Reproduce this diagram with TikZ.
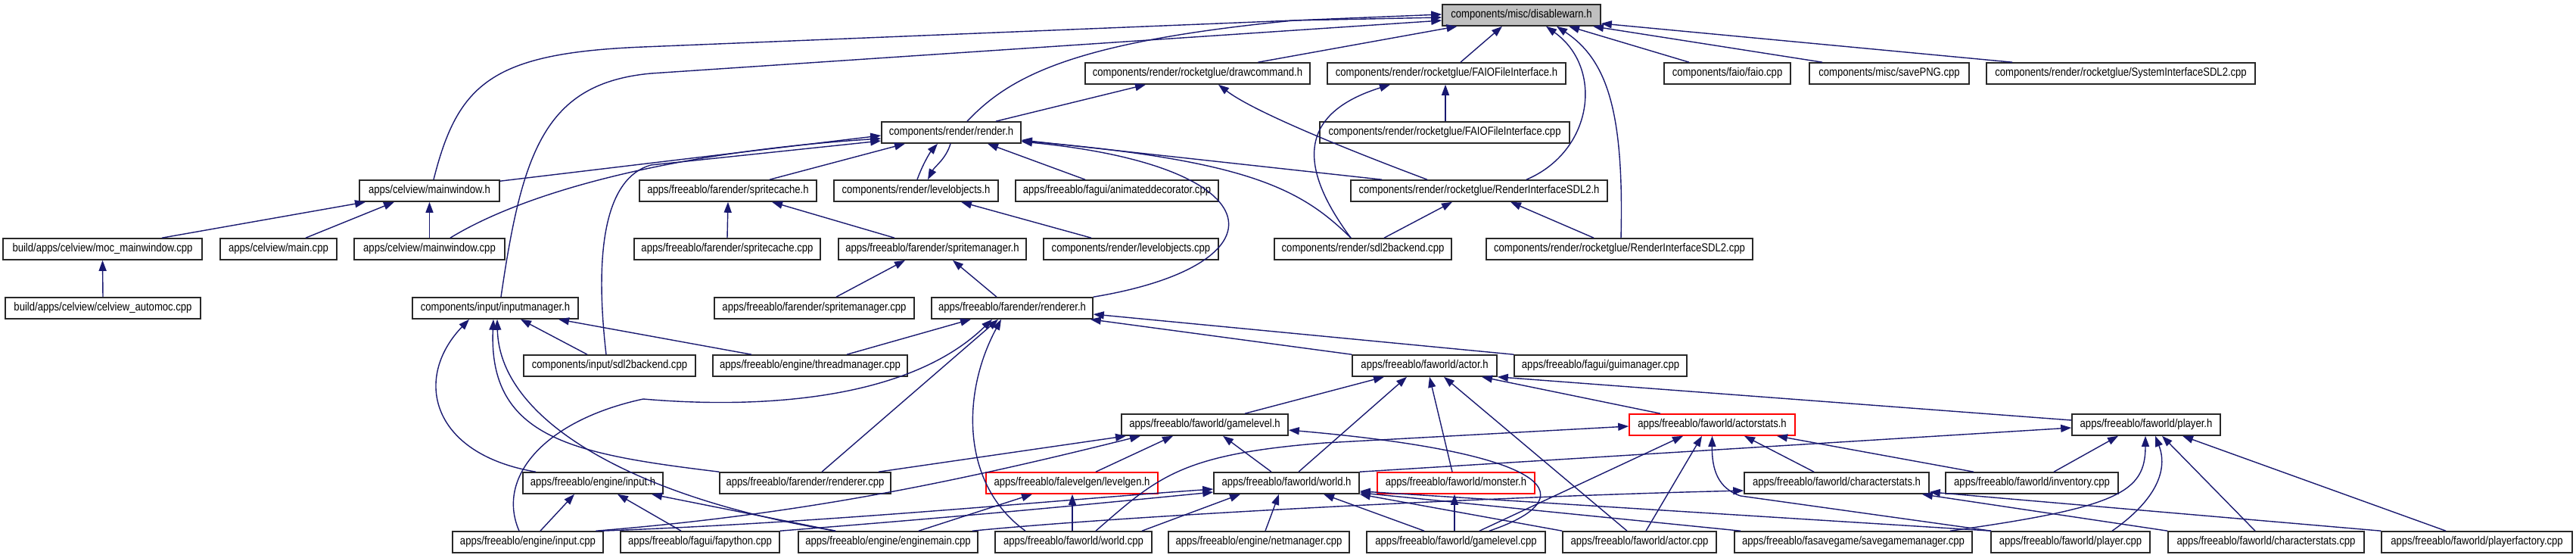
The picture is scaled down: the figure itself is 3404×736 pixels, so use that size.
\documentclass[tikz,border=0pt]{standalone}
\usepackage{fontspec}
\setmainfont{Liberation Sans}[FakeStretch=0.85]
\usetikzlibrary{arrows.meta}
\definecolor{edgec}{RGB}{25,25,112}
\definecolor{boxc}{RGB}{40,40,40}
\definecolor{grayfill}{RGB}{191,191,191}
\tikzset{
  box/.style={draw=boxc, line width=1.6pt, fill=white, minimum height=28pt, inner sep=0pt,
    font=\fontsize{15.4}{17}\selectfont},
  redbox/.style={box, draw=red},
  e/.style={draw=edgec, line width=1.4pt, -{Triangle[length=14pt,width=10pt]}}
}
\begin{document}
\begin{tikzpicture}[x=1pt,y=-1pt]
\useasboundingbox (0,0) rectangle (3404,736);
% row 1
\node[box, fill=grayfill, minimum width=209pt] (dw) at (2010.5,20) {components/misc/disablewarn.h};
% row 2
\node[box, minimum width=297pt] (dc) at (1582.5,97) {components/render/rocketglue/drawcommand.h};
\node[box, minimum width=315pt] (faioh) at (1911.5,97) {components/render/rocketglue/FAIOFileInterface.h};
\node[box, minimum width=167pt] (faio) at (2282.5,97) {components/faio/faio.cpp};
\node[box, minimum width=211pt] (png) at (2496.5,97) {components/misc/savePNG.cpp};
\node[box, minimum width=355pt] (sysif) at (2802.5,97) {components/render/rocketglue/SystemInterfaceSDL2.cpp};
% row 3
\node[box, minimum width=184pt] (render) at (1257,175) {components/render/render.h};
\node[box, minimum width=330pt] (faiocpp) at (1909,175) {components/render/rocketglue/FAIOFileInterface.cpp};
% row 4
\node[box, minimum width=185pt] (mwh) at (567.5,252) {apps/celview/mainwindow.h};
\node[box, minimum width=234pt] (sch) at (962,252) {apps/freeablo/farender/spritecache.h};
\node[box, minimum width=217pt] (loh) at (1210.5,252) {components/render/levelobjects.h};
\node[box, minimum width=268pt] (anim) at (1476,252) {apps/freeablo/fagui/animateddecorator.cpp};
\node[box, minimum width=339pt] (rih) at (1954.5,252) {components/render/rocketglue/RenderInterfaceSDL2.h};
% row 5
\node[box, minimum width=263pt] (moc) at (135.5,329) {build/apps/celview/moc\_mainwindow.cpp};
\node[box, minimum width=154pt] (main) at (368,329) {apps/celview/main.cpp};
\node[box, minimum width=199pt] (mwcpp) at (567.5,329) {apps/celview/mainwindow.cpp};
\node[box, minimum width=246pt] (sccpp) at (961,329) {apps/freeablo/farender/spritecache.cpp};
\node[box, minimum width=248pt] (smh) at (1232,329) {apps/freeablo/farender/spritemanager.h};
\node[box, minimum width=231pt] (locpp) at (1494.5,329) {components/render/levelobjects.cpp};
\node[box, minimum width=234pt] (sdlr) at (1801,329) {components/render/sdl2backend.cpp};
\node[box, minimum width=352pt] (ricpp) at (2140,329) {components/render/rocketglue/RenderInterfaceSDL2.cpp};
% row 6
\node[box, minimum width=258pt] (automoc) at (136,407) {build/apps/celview/celview\_automoc.cpp};
\node[box, minimum width=219pt] (imh) at (654.5,407) {components/input/inputmanager.h};
\node[box, minimum width=264pt] (smcpp) at (1076,407) {apps/freeablo/farender/spritemanager.cpp};
\node[box, minimum width=213pt] (rdh) at (1337.5,407) {apps/freeablo/farender/renderer.h};
% row 7
\node[box, minimum width=227pt] (sdli) at (805.5,483) {components/input/sdl2backend.cpp};
\node[box, minimum width=257pt] (tm) at (1070.5,483) {apps/freeablo/engine/threadmanager.cpp};
\node[box, minimum width=191pt] (acth) at (1882.5,483) {apps/freeablo/faworld/actor.h};
\node[box, minimum width=228pt] (gui) at (2115,483) {apps/freeablo/fagui/guimanager.cpp};
% row 8
\node[box, minimum width=220pt] (glh) at (1592,561) {apps/freeablo/faworld/gamelevel.h};
\node[redbox, minimum width=219pt] (ash) at (2262.5,561) {apps/freeablo/faworld/actorstats.h};
\node[box, minimum width=196pt] (plh) at (2836,561) {apps/freeablo/faworld/player.h};
% row 9
\node[box, minimum width=185pt] (inh) at (783.5,638) {apps/freeablo/engine/input.h};
\node[box, minimum width=226pt] (rdcpp) at (1064,638) {apps/freeablo/farender/renderer.cpp};
\node[redbox, minimum width=227pt] (lgh) at (1416.5,638) {apps/freeablo/falevelgen/levelgen.h};
\node[box, minimum width=192pt] (wh) at (1700,638) {apps/freeablo/faworld/world.h};
\node[redbox, minimum width=208pt] (mh) at (1924,638) {apps/freeablo/faworld/monster.h};
\node[box, minimum width=244pt] (csh) at (2427,638) {apps/freeablo/faworld/characterstats.h};
\node[box, minimum width=228pt] (inv) at (2685,638) {apps/freeablo/faworld/inventory.cpp};
% row 10
\node[box, minimum width=199pt] (incpp) at (697.5,716) {apps/freeablo/engine/input.cpp};
\node[box, minimum width=210pt] (fpy) at (925,716) {apps/freeablo/fagui/fapython.cpp};
\node[box, minimum width=237pt] (em) at (1173.5,716) {apps/freeablo/engine/enginemain.cpp};
\node[box, minimum width=207pt] (wcpp) at (1418.5,716) {apps/freeablo/faworld/world.cpp};
\node[box, minimum width=239pt] (net) at (1663.5,716) {apps/freeablo/engine/netmanager.cpp};
\node[box, minimum width=236pt] (glcpp) at (1924,716) {apps/freeablo/faworld/gamelevel.cpp};
\node[box, minimum width=203pt] (actcpp) at (2166.5,716) {apps/freeablo/faworld/actor.cpp};
\node[box, minimum width=314pt] (sg) at (2449,716) {apps/freeablo/fasavegame/savegamemanager.cpp};
\node[box, minimum width=210pt] (plcpp) at (2736,716) {apps/freeablo/faworld/player.cpp};
\node[box, minimum width=259pt] (cscpp) at (2994.5,716) {apps/freeablo/faworld/characterstats.cpp};
\node[box, minimum width=252pt] (pf) at (3273,716) {apps/freeablo/faworld/playerfactory.cpp};

% edges into disablewarn.h
\draw[e] ([xshift=5.5pt]mwh.north) .. controls (605,110) and (650,70) .. (850,62) -- ([yshift=1pt]dw.west);
\draw[e] ([xshift=7.5pt]imh.north) .. controls (690,200) and (720,110) .. (860,97) -- ([yshift=-7pt]dw.west);
\draw[e] ([xshift=21pt]render.north) .. controls (1335,100) and (1420,55) .. (1710,27) -- ([yshift=-3pt]dw.west);
\draw[e] ([xshift=80pt]dc.north) -- ([xshift=-85pt]dw.south);
\draw[e] ([xshift=18.5pt]faioh.north) -- ([xshift=-25.5pt]dw.south);
\draw[e] ([xshift=62.5pt]rih.north) .. controls (2105,200) and (2120,90) .. ([xshift=32.5pt]dw.south);
\draw[e] ([xshift=2pt]ricpp.north) .. controls (2146,150) and (2125,80) .. ([xshift=46.5pt]dw.south);
\draw[e] ([xshift=-50.5pt]faio.north) -- ([xshift=62.5pt]dw.south);
\draw[e] ([xshift=-88.5pt]png.north) -- ([xshift=94.5pt]dw.south);
\draw[e] ([xshift=-143.5pt]sysif.north) -- ([yshift=-11pt]dw.east);
% drawcommand.h
\draw[e] ([xshift=59pt]render.north) -- ([xshift=-68.5pt]dc.south);
\draw[e] ([xshift=-68.5pt]rih.north) .. controls (1800,205) and (1660,150) .. ([xshift=27.5pt]dc.south);
% FAIOFileInterface.h
\draw[e] ([xshift=1pt]faiocpp.north) -- ([xshift=-1.5pt]faioh.south);
\draw[e] ([xshift=-16pt]sdlr.north) .. controls (1715,220) and (1715,150) .. ([xshift=-74.5pt]faioh.south);
% render.h
\draw[e] ([yshift=-2pt]mwh.north east) -- ([yshift=-4pt]render.west);
\draw[e] ([xshift=27.5pt]mwcpp.north) .. controls (700,250) and (900,200) .. ([yshift=-8pt]render.west);
\draw[e] ([xshift=-4.5pt]sdli.north) .. controls (785,330) and (800,235) .. (860,218) -- ([yshift=-11pt]render.west);
\draw[e] ([xshift=55pt]sch.north) -- ([xshift=-61pt]render.south);
\draw[e] ([xshift=1.5pt]loh.north) .. controls (1220,215) and (1230,200) .. ([xshift=-18pt]render.south);
\draw[e] ([xshift=-1pt]render.south) .. controls (1250,210) and (1235,220) .. ([xshift=15.5pt]loh.north);
\draw[e] ([xshift=-42pt]anim.north) -- ([xshift=48pt]render.south);
\draw[e] ([xshift=-128.5pt]rih.north) -- ([yshift=-10pt]render.east);
\draw[e] ([xshift=-16pt]sdlr.north) .. controls (1720,250) and (1650,212) .. ([yshift=-11pt]render.east);
\draw[e] (rdh.north east) .. controls (1700,350) and (1690,220) .. ([yshift=-12pt]render.east);
% RenderInterfaceSDL2.h
\draw[e] ([xshift=28pt]sdlr.north) -- ([xshift=-35.5pt]rih.south);
\draw[e] ([xshift=-34pt]ricpp.north) -- ([xshift=41.5pt]rih.south);
% mainwindow.h
\draw[e] ([xshift=78.5pt]moc.north) -- ([xshift=-84.5pt]mwh.south);
\draw[e] ([xshift=36pt]main.north) -- ([xshift=-46.5pt]mwh.south);
\draw[e] (mwcpp.north) -- (mwh.south);
\draw[e] (automoc.north) -- (moc.south);
% spritecache / levelobjects / spritemanager
\draw[e] (sccpp.north) -- (sch.south);
\draw[e] ([xshift=-50pt]smh.north) -- ([xshift=58pt]sch.south);
\draw[e] ([xshift=-52.5pt]locpp.north) -- ([xshift=59.5pt]loh.south);
\draw[e] ([xshift=29pt]smcpp.north) -- ([xshift=-36pt]smh.south);
\draw[e] ([xshift=-20.5pt]rdh.north) -- ([xshift=27pt]smh.south);
% inputmanager.h
\draw[e] ([xshift=-75.5pt]inh.north) .. controls (570,600) and (545,500) .. ([xshift=-34.5pt]imh.south);
\draw[e] (rdcpp.north west) .. controls (760,600) and (645,580) .. ([xshift=-2.5pt]imh.south);
\draw[e] ([xshift=-69.5pt]em.north) .. controls (850,660) and (660,560) .. ([xshift=2.5pt]imh.south);
\draw[e] ([xshift=-29.5pt]sdli.north) -- ([xshift=33.5pt]imh.south);
\draw[e] ([xshift=-77.5pt]tm.north) -- ([xshift=83.5pt]imh.south);
% renderer.h
\draw[e] ([xshift=48.5pt]tm.north) -- ([xshift=-54.5pt]rdh.south);
\draw[e] ([xshift=-11.5pt]incpp.north) .. controls (655,630) and (720,555) .. (850,527) .. controls (1000,540) and (1200,530) .. ([xshift=-26.5pt]rdh.south);
\draw[e] ([xshift=22pt]rdcpp.north) -- ([xshift=-18.5pt]rdh.south);
\draw[e] ([xshift=-63.5pt]wcpp.north) .. controls (1270,640) and (1270,520) .. ([xshift=-14.5pt]rdh.south);
\draw[e] (gui.north west) -- ([yshift=-8pt]rdh.east);
\draw[e] (acth.north west) -- ([xshift=-4pt]rdh.south east);
% actor.h
\draw[e] ([xshift=53pt]glh.north) -- ([xshift=-53.5pt]acth.south);
\draw[e] ([xshift=16pt]wh.north) -- ([xshift=-23.5pt]acth.south);
\draw[e] ([xshift=-5pt]mh.north) -- ([xshift=6.5pt]acth.south);
\draw[e] ([xshift=-16.5pt]actcpp.north) -- ([xshift=25.5pt]acth.south);
\draw[e] ([xshift=-68.5pt]ash.north) -- ([xshift=75.5pt]acth.south);
\draw[e] ([yshift=6pt]plh.west) -- (acth.south east);
% gamelevel.h
\draw[e] ([xshift=97pt]rdcpp.north) -- ([xshift=-104pt]glh.south);
\draw[e] ([xshift=90pt]incpp.north) .. controls (1050,680) and (1250,640) .. ([xshift=-85pt]glh.south);
\draw[e] ([xshift=31.5pt]lgh.north) -- ([xshift=-42pt]glh.south);
\draw[e] ([xshift=-20pt]wh.north) -- ([xshift=24pt]glh.south);
\draw[e] ([xshift=44pt]glcpp.north) .. controls (2090,660) and (2070,600) .. ([yshift=-7pt]glh.east);
% actorstats.h
\draw[e] ([xshift=29.5pt]wcpp.north) .. controls (1530,630) and (1560,600) .. (1750,585) -- ([yshift=-2pt]ash.west);
\draw[e] ([xshift=31pt]glcpp.north) -- ([xshift=-38.5pt]ash.south);
\draw[e] ([xshift=8.5pt]actcpp.north) -- ([xshift=-13.5pt]ash.south);
\draw[e] ([xshift=-105pt]plcpp.north) -- (2300,655) .. controls (2270,645) and (2262,620) .. (ash.south);
\draw[e] ([xshift=-30pt]csh.north) -- ([xshift=42.5pt]ash.south);
\draw[e] ([xshift=-77pt]inv.north) -- ([xshift=85.5pt]ash.south);
% player.h
\draw[e] (wh.north east) -- ([yshift=-4pt]plh.west);
\draw[e] ([xshift=29pt]inv.north) -- ([xshift=-37pt]plh.south);
\draw[e] ([xshift=128pt]sg.north) .. controls (2800,670) and (2835,650) .. ([xshift=-1pt]plh.south);
\draw[e] ([xshift=55pt]plcpp.north) .. controls (2850,660) and (2865,620) .. ([xshift=12pt]plh.south);
\draw[e] ([xshift=-14.5pt]cscpp.north) -- ([xshift=21pt]plh.south);
\draw[e] ([xshift=-41pt]pf.north) -- ([xshift=48pt]plh.south);
% characterstats.h
\draw[e] ([xshift=111.5pt]em.north) .. controls (1500,680) and (2000,655) .. ([yshift=-10pt]csh.west);
\draw[e] (cscpp.north west) -- ([xshift=-10pt]csh.south east);
\draw[e] (pf.north west) -- ([yshift=3pt]csh.south east);
% world.h
\draw[e] ([xshift=97pt]incpp.north) .. controls (1100,690) and (1400,660) .. ([yshift=-8pt]wh.west);
\draw[e] (fpy.north east) .. controls (1300,680) and (1450,665) .. ([yshift=-12pt]wh.west);
\draw[e] ([xshift=90.5pt]wcpp.north) -- ([xshift=-61pt]wh.south);
\draw[e] ([xshift=8.5pt]net.north) -- ([xshift=-10pt]wh.south);
\draw[e] ([xshift=-42pt]glcpp.north) -- ([xshift=49pt]wh.south);
\draw[e] (actcpp.north west) -- (wh.south east);
\draw[e] ([xshift=-149pt]sg.north) -- ([yshift=2pt]wh.south east);
\draw[e] ([xshift=-105pt]plcpp.north) -- ([yshift=4pt]wh.south east);
% levelgen.h
\draw[e] ([xshift=40.5pt]em.north) -- ([xshift=-52.5pt]lgh.south);
\draw[e] ([xshift=-1.5pt]wcpp.north) -- ([xshift=0.5pt]lgh.south);
% input.h
\draw[e] ([xshift=16.5pt]incpp.north) -- ([xshift=-24.5pt]inh.south);
\draw[e] ([xshift=-25pt]fpy.north) -- ([xshift=32.5pt]inh.south);
\draw[e] ([xshift=-69.5pt]em.north) -- ([xshift=77.5pt]inh.south);
% monster.h
\draw[e] ([xshift=-2pt]glcpp.north) -- ([xshift=-2pt]mh.south);
\end{tikzpicture}
\end{document}
